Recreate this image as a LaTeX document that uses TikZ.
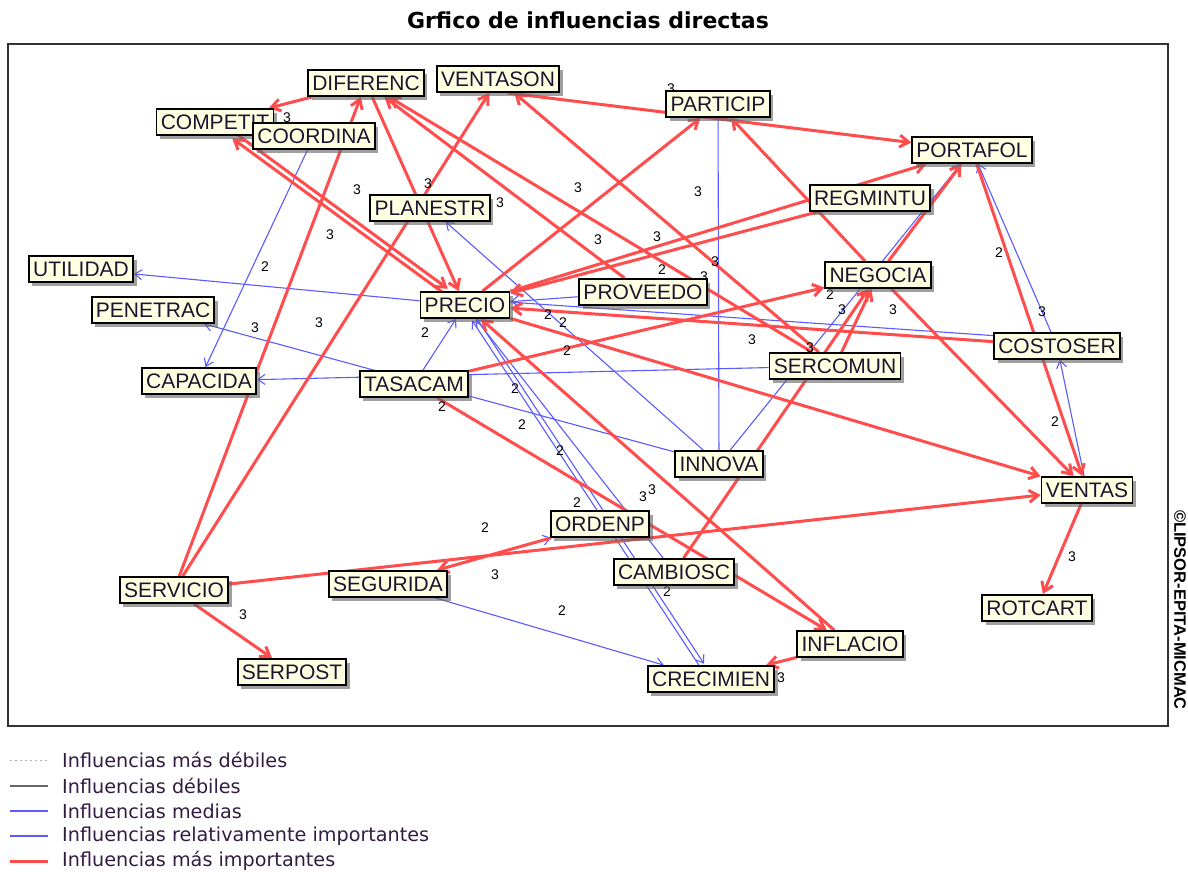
\documentclass[tikz,border=0pt]{standalone}
\usepackage{fontspec}
\setmainfont{Liberation Sans}
\newfontfamily\legendfont{DejaVu Sans}
\usetikzlibrary{arrows.meta,shadows}
\definecolor{linkred}{RGB}{255,76,76}
\definecolor{linkblue}{RGB}{90,90,255}
\definecolor{boxfill}{RGB}{255,255,226}
\definecolor{ink}{RGB}{28,20,48}
\definecolor{legendink}{RGB}{50,28,66}
\pgfdeclarelayer{links}
\pgfdeclarelayer{weights}
\pgfsetlayers{links,weights,main}
\begin{document}
\begin{tikzpicture}[x=1pt,y=-1pt,
  var/.style={draw=black,line width=1.8pt,fill=boxfill,inner xsep=4.2pt,inner ysep=0pt,
    minimum height=26pt,text height=15pt,text depth=0pt,font=\fontsize{21}{21}\selectfont,text=ink,
    drop shadow={shadow xshift=3.5pt,shadow yshift=-3.5pt,fill=black!60,opacity=.62}},
  strong/.style={draw=linkred,line width=3pt,-{Straight Barb[length=9pt,width=12pt,line width=3pt]}},
  medium/.style={draw=linkblue,line width=1.1pt,-{Straight Barb[length=7pt,width=10pt,line width=1.1pt]}},
  mediumline/.style={draw=linkblue,line width=1.1pt},
  wt/.style={font=\fontsize{14}{14}\selectfont,text=black,inner sep=0pt},
  legendtext/.style={anchor=west,inner sep=0pt,font=\legendfont\fontsize{19.2}{19.2}\selectfont,text=legendink},
]
\useasboundingbox (0,0) rectangle (1188,876);

% title and frame
\node[font=\legendfont\bfseries\fontsize{22}{22}\selectfont] (title) at (588,20) {Grfico de influencias directas};
\draw[line width=1.5pt,black!80] (8,44) rectangle (1168,726);
\node[rotate=-90,font=\bfseries\fontsize{16.5}{16.5}\selectfont,inner sep=0pt] (copyright) at (1180,610) {©LIPSOR-EPITA-MICMAC};

% variables
\node[var] (competit) at (215,122) {COMPETIT};
\node[var] (diferenc) at (366,83) {DIFERENC};
\node[var] (ventason) at (498,79) {VENTASON};
\node[var] (coordina) at (314,136) {COORDINA};
\node[var] (particip) at (718,104) {PARTICIP};
\node[var] (portafol) at (972,150) {PORTAFOL};
\node[var] (regmintu) at (870,198) {REGMINTU};
\node[var] (planestr) at (430,208) {PLANESTR};
\node[var] (utilidad) at (81,269) {UTILIDAD};
\node[var] (negocia) at (878,275) {NEGOCIA};
\node[var] (proveedo) at (643,292) {PROVEEDO};
\node[var] (precio) at (465,305) {PRECIO};
\node[var] (penetrac) at (153,310) {PENETRAC};
\node[var] (costoser) at (1057,346) {COSTOSER};
\node[var] (sercomun) at (835,366) {SERCOMUN};
\node[var] (capacida) at (199,381) {CAPACIDA};
\node[var] (tasacam) at (414,384) {TASACAM};
\node[var] (innova) at (719,464) {INNOVA};
\node[var] (ventas) at (1087,490) {VENTAS};
\node[var] (ordenp) at (600,524) {ORDENP};
\node[var] (cambiosc) at (674,572) {CAMBIOSC};
\node[var] (segurida) at (388,584) {SEGURIDA};
\node[var] (servicio) at (174,590) {SERVICIO};
\node[var] (rotcart) at (1037,608) {ROTCART};
\node[var] (inflacio) at (850,644) {INFLACIO};
\node[var] (serpost) at (292,672) {SERPOST};
\node[var] (crecimien) at (711,679) {CRECIMIEN};

% influences, drawn beneath the variables
\begin{pgfonlayer}{links}
% medium influences
\draw[medium] (coordina) -- (capacida);
\draw[medium] (precio) -- (utilidad);
\draw[medium] (innova) -- (penetrac);
\draw[medium] (sercomun) -- (capacida);
\draw[medium] (tasacam) -- (precio);
\draw[medium] (innova) -- (planestr);
\draw[mediumline] (innova) -- (particip);
\draw[medium,transform canvas={xshift=2.1pt,yshift=1.4pt}] (precio) -- (crecimien);
\draw[medium,transform canvas={xshift=-2.1pt,yshift=-1.4pt}] (crecimien) -- (precio);
\draw[medium] (cambiosc) -- (precio);
\draw[medium] (segurida) -- (crecimien);
\draw[medium] (segurida) -- (ordenp);
\draw[medium] (regmintu) -- (precio);
\draw[medium] (proveedo) -- (precio);
\draw[mediumline,transform canvas={yshift=6pt}] (precio) -- (costoser);
\draw[medium] (ventas) -- (costoser);
\draw[medium] (costoser) -- (portafol);
\draw[medium] (innova) -- (portafol);
% most important influences
\draw[strong] (diferenc) -- (competit);
\draw[strong,transform canvas={xshift=-1.8pt,yshift=-2.4pt}] (precio) -- (competit);
\draw[strong,transform canvas={xshift=1.8pt,yshift=2.4pt}] (competit) -- (precio);
\draw[strong] (diferenc) -- (precio);
\draw[strong] (servicio) -- (diferenc);
\draw[strong] (servicio) -- (ventason);
\draw[strong] (sercomun) -- (ventason);
\draw[strong] (sercomun) -- (diferenc);
\draw[strong] (proveedo) -- (diferenc);
\draw[strong] ([xshift=10pt,yshift=-14pt]ventason.center) -- (portafol);
\draw[strong] (precio) -- (particip);
\draw[strong] (negocia) -- (particip);
\draw[strong] (precio) -- (portafol);
\draw[strong] (regmintu) -- (precio);
\draw[strong] (costoser) -- (precio);
\draw[strong] (precio) -- (ventas);
\draw[strong] (servicio) -- (ventas);
\draw[strong] (negocia) -- (ventas);
\draw[strong] (portafol) -- (ventas);
\draw[strong] (ventas) -- (rotcart);
\draw[strong] (servicio) -- (serpost);
\draw[strong] (tasacam) -- (negocia);
\draw[strong] (sercomun) -- (negocia);
\draw[strong] (cambiosc) -- (negocia);
\draw[strong] (negocia) -- (portafol);
\draw[strong] (tasacam) -- (inflacio);
\draw[strong] (inflacio) -- (precio);
\draw[strong] (ordenp) -- (segurida);
\draw[strong] (inflacio) -- (crecimien);
\end{pgfonlayer}

% influence values
\begin{pgfonlayer}{weights}
\node[wt] (w01) at (287,118) {3};
\node[wt] (w02) at (357,190) {3};
\node[wt] (w03) at (330,235) {3};
\node[wt] (w04) at (265,267) {2};
\node[wt] (w05) at (428,184) {3};
\node[wt] (w06) at (500,203) {3};
\node[wt] (w07) at (319,323) {3};
\node[wt] (w08) at (255,328) {3};
\node[wt] (w09) at (425,333) {2};
\node[wt] (w10) at (442,407) {2};
\node[wt] (w11) at (578,188) {3};
\node[wt] (w12) at (698,192) {3};
\node[wt] (w13) at (598,240) {3};
\node[wt] (w14) at (657,237) {3};
\node[wt] (w15) at (662,270) {2};
\node[wt] (w16) at (715,262) {3};
\node[wt] (w17) at (704,277) {3};
\node[wt] (w18) at (548,315) {2};
\node[wt] (w19) at (563,323) {2};
\node[wt] (w20) at (567,351) {2};
\node[wt] (w21) at (752,340) {3};
\node[wt] (w22) at (810,348) {3};
\node[wt] (w23) at (830,295) {2};
\node[wt] (w24) at (842,310) {3};
\node[wt] (w25) at (893,310) {3};
\node[wt] (w26) at (999,253) {2};
\node[wt] (w27) at (1042,312) {3};
\node[wt] (w28) at (1055,422) {2};
\node[wt] (w29) at (515,389) {2};
\node[wt] (w30) at (522,425) {2};
\node[wt] (w31) at (560,451) {2};
\node[wt] (w32) at (577,503) {2};
\node[wt] (w33) at (643,497) {3};
\node[wt] (w34) at (652,490) {3};
\node[wt] (w35) at (485,528) {2};
\node[wt] (w36) at (495,575) {3};
\node[wt] (w37) at (562,611) {2};
\node[wt] (w38) at (667,592) {2};
\node[wt] (w39) at (781,678) {3};
\node[wt] (w40) at (243,615) {3};
\node[wt] (w41) at (1072,557) {3};
\node[wt] (w42) at (671,89) {3};
\end{pgfonlayer}

% legend
\draw[black!30,dash pattern=on 2pt off 3pt,line width=1pt] (10,760) -- (48,760);
\draw[black!60,line width=1.2pt] (10,786) -- (48,786);
\draw[linkblue,line width=1.2pt] (10,811) -- (48,811);
\draw[linkblue,line width=2.6pt] (10,836) -- (48,836);
\draw[linkred,line width=3pt] (10,861) -- (48,861);
\node[legendtext] (leg1) at (62,760) {Influencias más débiles};
\node[legendtext] (leg2) at (62,786) {Influencias débiles};
\node[legendtext] (leg3) at (62,811) {Influencias medias};
\node[legendtext] (leg4) at (62,836) {Influencias relativamente importantes};
\node[legendtext] (leg5) at (62,861) {Influencias más importantes};
\end{tikzpicture}
\end{document}
